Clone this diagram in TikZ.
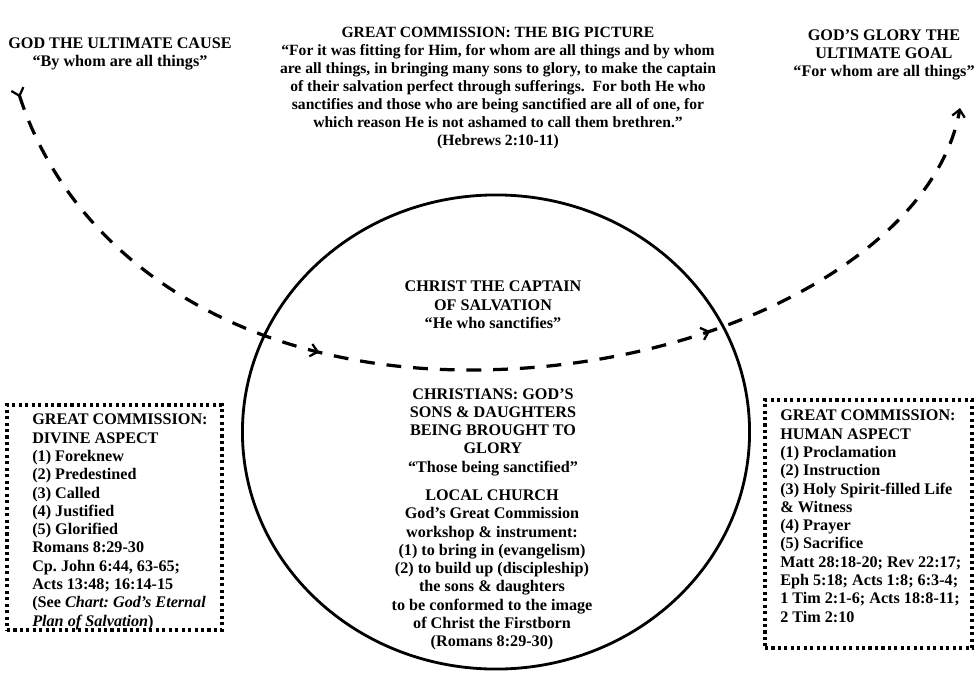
\documentclass[tikz,border=0pt]{standalone}
\usepackage{fontspec}
\setmainfont{Liberation Serif}
\usetikzlibrary{arrows.meta, shapes.geometric, decorations.markings}
\frenchspacing
\newcommand{\chartfont}{\fontsize{11.5}{13}\selectfont\bfseries}
\newcommand{\versefont}{\fontsize{11.1}{12.7}\selectfont\bfseries}
\tikzset{heading/.style = {font=\chartfont, align=center, inner sep=0pt}}
\tikzset{verse/.style = {font=\versefont, align=center, inner sep=0pt}}
\tikzset{listing/.style = {font=\chartfont, align=left, inner sep=0pt, anchor=north west}}
\tikzset{aspectbox/.style = {draw, line width=2.2pt, dash pattern=on 2.2pt off 2.4pt, inner sep=0pt}}
\tikzset{church/.style = {shape=ellipse, draw, line width=2pt, minimum width=12.675cm, minimum height=11.85cm}}
\tikzset{barb/.tip = {Straight Barb[length=5pt, width=9pt, line width=1.6pt]}}
\tikzset{tail/.tip = {Straight Barb[reversed, length=5pt, width=9pt, line width=1.6pt]}}
\tikzset{journey/.style = {line width=2.3pt, dash pattern=on 10.5pt off 8.5pt, tail-barb,
    decoration={markings, mark=at position 0.36 with {\arrow{barb}}, mark=at position 0.70 with {\arrow{barb}}},
    postaction={decorate}}}

\begin{document}
\begin{tikzpicture}[x=0.025cm, y=-0.025cm]
        \useasboundingbox (0,0) rectangle (974,677);
        \node[heading] (cause) at (120,54) {GOD THE ULTIMATE CAUSE\\``By whom are all things''};
        \node[verse] (bigpicture) at (498,88) {GREAT COMMISSION: THE BIG PICTURE\\
            ``For it was fitting for Him, for whom are all things and by whom\\
            are all things, in bringing many sons to glory, to make the captain\\
            of their salvation perfect through sufferings.\ \ For both He who\\
            sanctifies and those who are being sanctified are all of one, for\\
            which reason He is not ashamed to call them brethren.''\\
            (Hebrews 2:10-11)};
        \node[heading] (goal) at (884,55) {GOD'S GLORY THE\\ULTIMATE GOAL\\``For whom are all things''};
        \node[church] (circle) at (496,432) {};
        \node[heading] (captain) at (493,305) {CHRIST THE CAPTAIN\\OF SALVATION\\``He who sanctifies''};
        \node[heading] (sons) at (493,432) {CHRISTIANS: GOD'S\\SONS \& DAUGHTERS\\BEING BROUGHT TO\\GLORY\\``Those being sanctified''};
        \node[heading] (localchurch) at (492,570) {LOCAL CHURCH\\God's Great Commission\\workshop \& instrument:\\
            (1) to bring in (evangelism)\\(2) to build up (discipleship)\\the sons \& daughters\\
            to be conformed to the image\\of Christ the Firstborn\\(Romans 8:29-30)};
        \node[aspectbox, minimum width=5.375cm, minimum height=5.625cm] (divine) at (114.5,517.5) {};
        \node[listing] (divinelist) at (32,414) {GREAT COMMISSION:\\DIVINE ASPECT\\(1) Foreknew\\(2) Predestined\\
            (3) Called\\(4) Justified\\(5) Glorified\\Romans 8:29-30\\Cp. John 6:44, 63-65;\\Acts 13:48; 16:14-15\\
            (See \textit{Chart: God's Eternal}\\\textit{Plan of Salvation})};
        \node[aspectbox, minimum width=5.175cm, minimum height=6.2cm] (human) at (868.5,524) {};
        \node[listing] (humanlist) at (780,410) {GREAT COMMISSION:\\HUMAN ASPECT\\(1) Proclamation\\(2) Instruction\\
            (3) Holy Spirit-filled Life\\\& Witness\\(4) Prayer\\(5) Sacrifice\\Matt 28:18-20; Rev 22:17;\\
            Eph 5:18; Acts 1:8; 6:3-4;\\1 Tim 2:1-6; Acts 18:8-11;\\2 Tim 2:10};
        \coordinate (start) at (17,88);
        \coordinate (dip) at (470,370);
        \coordinate (finish) at (960,108);
        \draw[journey] (start) .. controls (72,258) and (240,370) .. (dip)
            .. controls (720,370) and (935,250) .. (finish);
    \end{tikzpicture}
\end{document}
